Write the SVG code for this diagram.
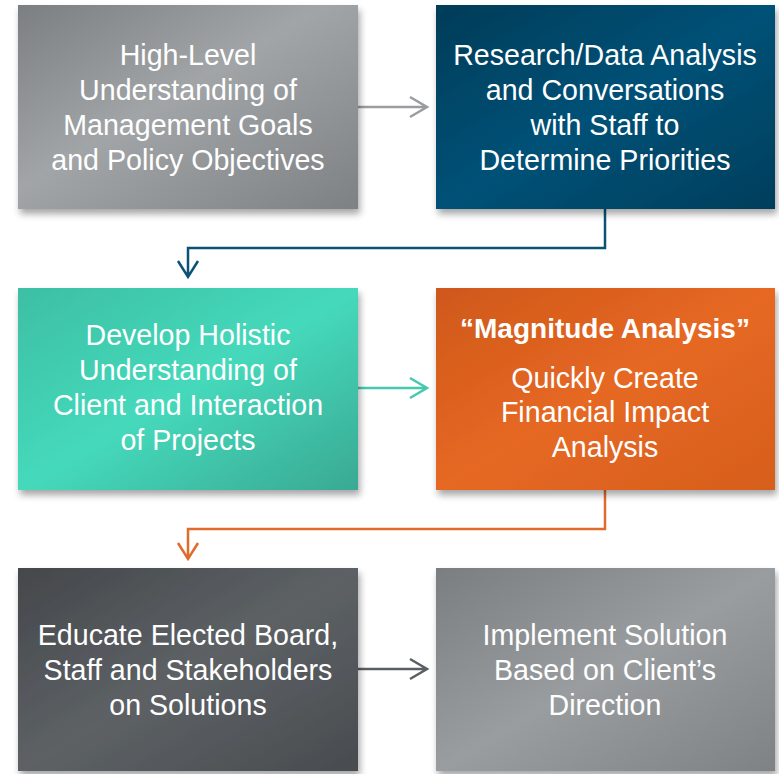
<svg xmlns="http://www.w3.org/2000/svg" width="779" height="774" viewBox="0 0 779 774">
  <style>
    .lbl { font-family: "Liberation Sans", Arial, sans-serif; font-size: 28.6px; fill: #ffffff; text-anchor: middle; }
    .bold { font-weight: bold; font-size: 28px; }
    .box { filter: url(#shadow); }
    .conn { fill: none; stroke-width: 2.5; }
  </style>
  <defs>
    <filter id="shadow" x="-10%" y="-10%" width="125%" height="130%">
      <feDropShadow dx="2" dy="5" stdDeviation="3.5" flood-color="#000" flood-opacity="0.35"/>
    </filter>
    <linearGradient id="gGray" x1="0" y1="0" x2="1" y2="1">
      <stop offset="0" stop-color="#7c7f82"/>
      <stop offset="0.45" stop-color="#a2a5a7"/>
      <stop offset="1" stop-color="#7e8183"/>
    </linearGradient>
    <linearGradient id="gBlue" x1="0" y1="0" x2="1" y2="1">
      <stop offset="0" stop-color="#033c58"/>
      <stop offset="0.5" stop-color="#045177"/>
      <stop offset="1" stop-color="#033e5c"/>
    </linearGradient>
    <linearGradient id="gTeal" x1="0" y1="0" x2="1" y2="1">
      <stop offset="0" stop-color="#3dbfa4"/>
      <stop offset="0.5" stop-color="#45d9bb"/>
      <stop offset="1" stop-color="#3aa993"/>
    </linearGradient>
    <linearGradient id="gOrange" x1="0" y1="0" x2="1" y2="1">
      <stop offset="0" stop-color="#cf581d"/>
      <stop offset="0.5" stop-color="#e66821"/>
      <stop offset="1" stop-color="#d65f1e"/>
    </linearGradient>
    <linearGradient id="gDark" x1="0" y1="0" x2="1" y2="1">
      <stop offset="0" stop-color="#44484b"/>
      <stop offset="0.5" stop-color="#5d6165"/>
      <stop offset="1" stop-color="#484c4f"/>
    </linearGradient>
    <linearGradient id="gMid" x1="0" y1="0" x2="1" y2="1">
      <stop offset="0" stop-color="#7a7e80"/>
      <stop offset="0.5" stop-color="#9a9d9f"/>
      <stop offset="1" stop-color="#7f8284"/>
    </linearGradient>
  </defs>

  <!-- connectors -->
  <g id="connectors" class="conn">
    <path d="M358,107 H427 M410,97 L427,107 L410,117" stroke="#9a9d9f"/>
    <path d="M605,209 V248 H188 V277 M178,261 L188,277 L198,261" stroke="#0b5275"/>
    <path d="M358,388 H427 M410,378 L427,388 L410,398" stroke="#45c9ae"/>
    <path d="M605,490 V529 H188 V559 M178,543 L188,559 L198,543" stroke="#e06c2c"/>
    <path d="M358,669 H427 M410,659 L427,669 L410,679" stroke="#5b5f63"/>
  </g>

  <g id="node-goals">
    <rect class="box" x="18" y="5" width="340" height="204" fill="url(#gGray)"/>
    <text class="lbl" x="188" y="65">High-Level</text>
    <text class="lbl" x="188" y="100">Understanding of</text>
    <text class="lbl" x="188" y="135">Management Goals</text>
    <text class="lbl" x="188" y="170">and Policy Objectives</text>
  </g>

  <g id="node-research">
    <rect class="box" x="436" y="5" width="339" height="204" fill="url(#gBlue)"/>
    <text class="lbl" x="605" y="65">Research/Data Analysis</text>
    <text class="lbl" x="605" y="100">and Conversations</text>
    <text class="lbl" x="605" y="135">with Staff to</text>
    <text class="lbl" x="605" y="170">Determine Priorities</text>
  </g>

  <g id="node-holistic">
    <rect class="box" x="18" y="288" width="340" height="202" fill="url(#gTeal)"/>
    <text class="lbl" x="188" y="345">Develop Holistic</text>
    <text class="lbl" x="188" y="380">Understanding of</text>
    <text class="lbl" x="188" y="415">Client and Interaction</text>
    <text class="lbl" x="188" y="450">of Projects</text>
  </g>

  <g id="node-magnitude">
    <rect class="box" x="436" y="288" width="339" height="202" fill="url(#gOrange)"/>
    <text class="lbl bold" x="605" y="338">“Magnitude Analysis”</text>
    <text class="lbl" x="605" y="388">Quickly Create</text>
    <text class="lbl" x="605" y="422">Financial Impact</text>
    <text class="lbl" x="605" y="457">Analysis</text>
  </g>

  <g id="node-educate">
    <rect class="box" x="18" y="568" width="340" height="203" fill="url(#gDark)"/>
    <text class="lbl" x="188" y="645">Educate Elected Board,</text>
    <text class="lbl" x="188" y="680">Staff and Stakeholders</text>
    <text class="lbl" x="188" y="715">on Solutions</text>
  </g>

  <g id="node-implement">
    <rect class="box" x="436" y="568" width="339" height="203" fill="url(#gMid)"/>
    <text class="lbl" x="605" y="645">Implement Solution</text>
    <text class="lbl" x="605" y="680">Based on Client’s</text>
    <text class="lbl" x="605" y="715">Direction</text>
  </g>
</svg>
